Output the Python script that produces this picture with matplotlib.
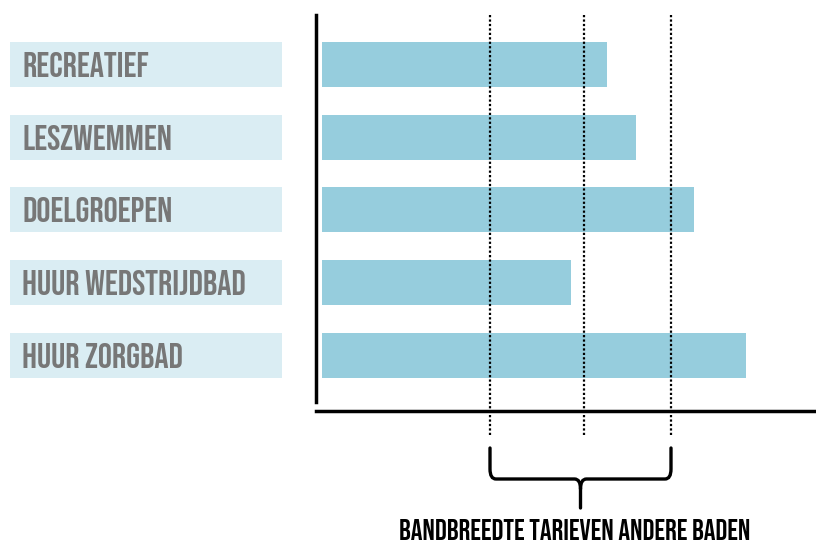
import matplotlib.pyplot as plt
from matplotlib.path import Path
from matplotlib.patches import PathPatch
from matplotlib.transforms import blended_transform_factory

# categories and bar values (tariff index, arbitrary units)
categories = ['RECREATIEF', 'LESZWEMMEN', 'DOELGROEPEN', 'HUUR WEDSTRIJDBAD', 'HUUR ZORGBAD']
values = [5.70, 6.28, 7.44, 4.98, 8.48]
# band of tariffs of other pools: low, mid, high
band = [3.36, 5.24, 6.98]
band_label = 'BANDBREEDTE TARIEVEN ANDERE BADEN'

bar_color = '#96cddd'
box_color = '#daedf3'
label_color = '#777777'
font = ['Bebas Neue', 'DejaVu Sans']

fig = plt.figure(figsize=(8.16, 5.43), dpi=100)
W, H = 816, 543

# main axes: pixel box x 316..816, y 14..411
ax = fig.add_axes([316 / W, 1 - 411 / H, 500 / W, 397 / H])
ypos = list(range(len(categories)))
ax.barh(ypos, values, height=0.62, color=bar_color, zorder=1)
ax.set_xlim(-0.12, 9.88)
ax.set_ylim(4.77, -0.70)
for s in ax.spines.values():
    s.set_visible(False)
ax.set_xticks([])
ax.set_yticks([])

# axis lines
ax.plot([-0.12, -0.12], [-0.68, 4.65], color='black', lw=2.5, clip_on=False, zorder=3)
ax.axhline(4.77, color='black', lw=2.5, clip_on=False, zorder=3)

# dotted band lines, extending below the axis
for b in band:
    ax.axvline(b, ymin=-0.06, ymax=1.0, color='black', lw=1.6,
               linestyle=(0, (1, 1)), clip_on=False, zorder=2)

# label boxes on the left
axl = fig.add_axes([10 / W, 1 - 411 / H, 272 / W, 397 / H])
axl.barh(ypos, [1] * len(categories), height=0.62, color=box_color)
axl.set_xlim(0, 1)
axl.set_ylim(4.77, -0.70)
axl.axis('off')
for y, c in zip(ypos, categories):
    axl.text(0.045, y, c, va='center', ha='left', fontsize=25.5,
             color=label_color, family=font)

# curly brace below the band
tr = blended_transform_factory(ax.transData, fig.transFigure)
x0, x2 = band[0], band[-1]
xm = (x0 + x2) / 2
dx = 0.12
y_top = 1 - 448 / H
y_mid = 1 - 479 / H
y_tip = 1 - 508 / H
dy = 10 / H
verts = [
    (x0, y_top), (x0, y_mid + dy), (x0, y_mid), (x0 + dx, y_mid),
    (xm - dx, y_mid), (xm, y_mid), (xm, y_mid - dy), (xm, y_tip),
    (xm, y_mid - dy), (xm, y_mid), (xm + dx, y_mid),
    (x2 - dx, y_mid), (x2, y_mid), (x2, y_mid + dy), (x2, y_top),
]
codes = [Path.MOVETO, Path.LINETO, Path.CURVE3, Path.CURVE3,
         Path.LINETO, Path.CURVE3, Path.CURVE3, Path.LINETO,
         Path.MOVETO, Path.CURVE3, Path.CURVE3,
         Path.LINETO, Path.CURVE3, Path.CURVE3, Path.LINETO]
brace = PathPatch(Path(verts, codes), transform=tr, fill=False, lw=2.4,
                  edgecolor='black', clip_on=False, capstyle='round')
fig.add_artist(brace)

fig.text(575 / W, 1 - 530 / H, band_label, ha='center', va='center', fontsize=21,
         color='black', family=font)

fig.savefig('out.png', dpi=100)
